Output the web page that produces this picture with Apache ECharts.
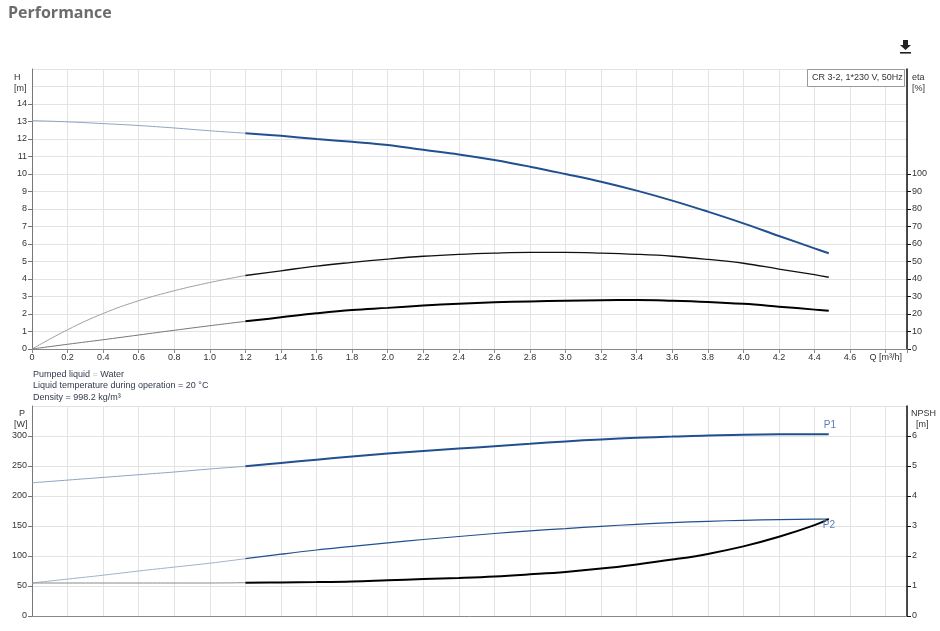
<!DOCTYPE html>
<html>
<head>
<meta charset="utf-8">
<title>Performance</title>
<script src="https://cdn.jsdelivr.net/npm/echarts@6/dist/echarts.min.js"></script>
<style>
  html, body { margin: 0; padding: 0; background: #fff; }
  #chart { width: 940px; height: 631px; }
</style>
</head>
<body>
<div id="chart"></div>
<script>
// flow points, Q [m³/h]
var qThin = [0, 0.2, 0.4, 0.6, 0.8, 1.0, 1.2];
var qMain = [1.2, 1.4, 1.6, 1.8, 2.0, 2.2, 2.4, 2.6, 2.8, 3.0, 3.2, 3.4, 3.6, 3.8, 4.0, 4.2, 4.4, 4.48];

// head H [m]
var hThin = [13.05, 12.98, 12.88, 12.77, 12.63, 12.47, 12.33];
var hMain = [12.33, 12.18, 12.0, 11.84, 11.66, 11.38, 11.12, 10.8, 10.42, 10.0, 9.56, 9.05, 8.48, 7.85, 7.18, 6.46, 5.75, 5.47];

// efficiencies eta [%]
var etaPThin = [0, 11.0, 20.3, 27.6, 33.3, 38.0, 42.0];
var etaPMain = [42.0, 44.7, 47.4, 49.5, 51.4, 53.0, 54.1, 54.8, 55.2, 55.2, 54.8, 54.1, 53.0, 51.2, 49.0, 45.7, 42.5, 41.0];
var etaTThin = [0, 2.7, 5.3, 8.0, 10.7, 13.3, 15.8];
var etaTMain = [15.8, 18.1, 20.4, 22.3, 23.5, 24.8, 25.9, 26.7, 27.2, 27.6, 27.9, 28.0, 27.6, 26.9, 25.8, 24.2, 22.5, 21.8];

// power P [W]
var p1Thin = [222, 226.5, 231, 235.5, 240, 245, 249.5];
var p1Main = [249.5, 255, 260.5, 265.8, 270.7, 275, 279, 283, 287, 291, 294.3, 297, 299, 301, 302, 302.8, 303, 303];
var p2Thin = [55, 61.5, 68, 75, 81.5, 88, 95.5];
var p2Main = [95.5, 103, 110, 116, 122, 127.5, 132.5, 137.5, 142, 145.7, 149.5, 152.8, 155.5, 157.8, 159.5, 160.6, 161.4, 161.7];

// NPSH [m]
var npshThin = [1.1, 1.1, 1.1, 1.1, 1.1, 1.1, 1.11];
var npshMain = [1.11, 1.12, 1.13, 1.15, 1.19, 1.23, 1.27, 1.32, 1.39, 1.47, 1.58, 1.72, 1.88, 2.07, 2.32, 2.64, 3.03, 3.23];

// axis ticks that carry a label
var hTicks = [0, 1, 2, 3, 4, 5, 6, 7, 8, 9, 10, 11, 12, 13, 14];
var etaTicks = [0, 10, 20, 30, 40, 50, 60, 70, 80, 90, 100];
var pTicks = [0, 50, 100, 150, 200, 250, 300];
var npshTicks = [0, 1, 2, 3, 4, 5, 6];

var pumpName = 'CR 3-2, 1*230 V, 50Hz';
var infoLines = ['Liquid temperature during operation = 20 °C', 'Density = 998.2 kg/m³'];

function pairs(xs, ys) {
  return xs.map(function (x, i) { return [x, ys[i]]; });
}

var blue = '#21508f';
var font = 'Liberation Sans, Arial, sans-serif';
var gridColor = '#e3e3e3';

function xAxisLabel(v) {
  if (Math.abs(v - 4.8) < 1e-6) return 'Q [m³/h]';
  if (v > 4.8) return '';
  return v === 0 ? '0' : v.toFixed(1);
}

function yAxis(gridIndex, max, interval, ticks, right) {
  return {
    type: 'value',
    gridIndex: gridIndex,
    position: right ? 'right' : 'left',
    min: 0, max: max, interval: interval,
    axisLine: { show: true, lineStyle: { color: right ? '#111' : '#777', width: right ? 1.5 : 1 } },
    axisTick: { show: true, length: 4, customValues: ticks, lineStyle: { color: right ? '#111' : '#777' } },
    axisLabel: { fontFamily: font, fontSize: 9, color: '#333', margin: 5, customValues: ticks },
    splitLine: { show: false }
  };
}

// invisible axis that only draws the horizontal grid lines
function gridAxis(gridIndex, max, interval) {
  return {
    type: 'value', gridIndex: gridIndex, min: 0, max: max, interval: interval,
    axisLine: { show: false }, axisTick: { show: false }, axisLabel: { show: false },
    splitLine: { show: true, lineStyle: { color: gridColor } }
  };
}

function line(name, xs, ys, xi, yi, color, width, extra) {
  var s = {
    name: name, type: 'line', xAxisIndex: xi, yAxisIndex: yi,
    data: pairs(xs, ys), smooth: 0.4, showSymbol: false, silent: true,
    lineStyle: { color: color, width: width }, z: 3
  };
  for (var k in extra) s[k] = extra[k];
  return s;
}

var chart = echarts.init(document.getElementById('chart'));

chart.setOption({
  animation: false,
  grid: [
    { left: 32, right: 33, top: 69, bottom: 282 },
    { left: 32, right: 33, top: 406, bottom: 15 }
  ],
  xAxis: [
    {
      type: 'value', gridIndex: 0, min: 0, max: 4.92, interval: 0.2,
      axisLine: { lineStyle: { color: '#888' } },
      axisTick: { length: 4, lineStyle: { color: '#888' } },
      axisLabel: { fontFamily: font, fontSize: 9, color: '#333', margin: 4, formatter: xAxisLabel },
      splitLine: { show: true, lineStyle: { color: gridColor } }
    },
    {
      type: 'value', gridIndex: 1, min: 0, max: 4.92, interval: 0.2,
      axisLine: { lineStyle: { color: '#888' } },
      axisTick: { show: false },
      axisLabel: { show: false },
      splitLine: { show: true, lineStyle: { color: gridColor } }
    }
  ],
  yAxis: [
    yAxis(0, 16, 1, hTicks, false),
    yAxis(0, 160, 10, etaTicks, true),
    yAxis(1, 350, 50, pTicks, false),
    yAxis(1, 7, 1, npshTicks, true),
    gridAxis(0, 16, 1),
    gridAxis(1, 350, 50)
  ],
  series: [
    line('H thin', qThin, hThin, 0, 0, '#8ea3c4', 1),
    line('H', qMain, hMain, 0, 0, blue, 2),
    line('eta thin', qThin, etaPThin, 0, 1, '#a0a0a0', 1),
    line('eta', qMain, etaPMain, 0, 1, '#111', 1.3),
    line('eta total thin', qThin, etaTThin, 0, 1, '#777', 1),
    line('eta total', qMain, etaTMain, 0, 1, '#000', 2),
    line('P1 thin', qThin, p1Thin, 1, 2, '#8ea3c4', 1),
    line('P1', qMain, p1Main, 1, 2, blue, 2, {
      endLabel: { show: true, formatter: 'P1', fontFamily: font, fontSize: 10, color: '#5a7db5', offset: [-13, -9] }
    }),
    line('P2 thin', qThin, p2Thin, 1, 2, '#9fb0cc', 1),
    line('P2', qMain, p2Main, 1, 2, blue, 1.2, {
      endLabel: { show: true, formatter: 'P2', fontFamily: font, fontSize: 10, color: '#5a7db5', offset: [-14, 6] }
    }),
    line('NPSH thin', qThin, npshThin, 1, 3, '#888', 1),
    line('NPSH', qMain, npshMain, 1, 3, '#000', 2)
  ],
  graphic: [
    { type: 'text', left: 8, top: 5, style: { text: 'Performance', fontFamily: 'Open Sans, sans-serif', fontWeight: 'bold', fontSize: 16, fill: '#6b6b6b' } },
    {
      type: 'group', left: 900, top: 40, children: [
        { type: 'polygon', shape: { points: [[3, 0], [8, 0], [8, 5], [11, 5], [5.5, 10], [0, 5], [3, 5]] }, style: { fill: '#222' } },
        { type: 'rect', shape: { x: 0, y: 12, width: 11, height: 1.6 }, style: { fill: '#222' } }
      ]
    },
    { type: 'rect', z: 100, shape: { x: 807.5, y: 69.5, width: 97, height: 17 }, style: { fill: '#fff', stroke: '#999', lineWidth: 1 } },
    { type: 'text', z: 101, x: 812, y: 78, style: { text: pumpName, fontFamily: font, fontSize: 9, fill: '#333', verticalAlign: 'middle' } },
    { type: 'text', left: 14, top: 72, style: { text: 'H\n[m]', align: 'center', fontFamily: font, fontSize: 9, lineHeight: 11, fill: '#333' } },
    { type: 'text', left: 912, top: 72, style: { text: 'eta\n[%]', fontFamily: font, fontSize: 9, lineHeight: 11, fill: '#333' } },
    { type: 'text', left: 14, top: 408, style: { text: '  P\n[W]', fontFamily: font, fontSize: 9, lineHeight: 11, fill: '#333' } },
    { type: 'text', left: 911, top: 408, style: { text: 'NPSH\n  [m]', fontFamily: font, fontSize: 9, lineHeight: 11, fill: '#333' } },
    {
      type: 'text', left: 33, top: 370,
      style: {
        text: '{a|Pumped liquid }{b|=}{a| Water}',
        fontFamily: font, fontSize: 9,
        rich: { a: { fontFamily: font, fontSize: 9, fill: '#333a4f' }, b: { fontFamily: font, fontSize: 9, fill: '#bbb' } }
      }
    },
    { type: 'text', left: 33, top: 381, style: { text: infoLines[0], fontFamily: font, fontSize: 9, fill: '#333a4f' } },
    { type: 'text', left: 33, top: 393, style: { text: infoLines[1], fontFamily: font, fontSize: 9, fill: '#333a4f' } }
  ]
});
</script>
</body>
</html>
